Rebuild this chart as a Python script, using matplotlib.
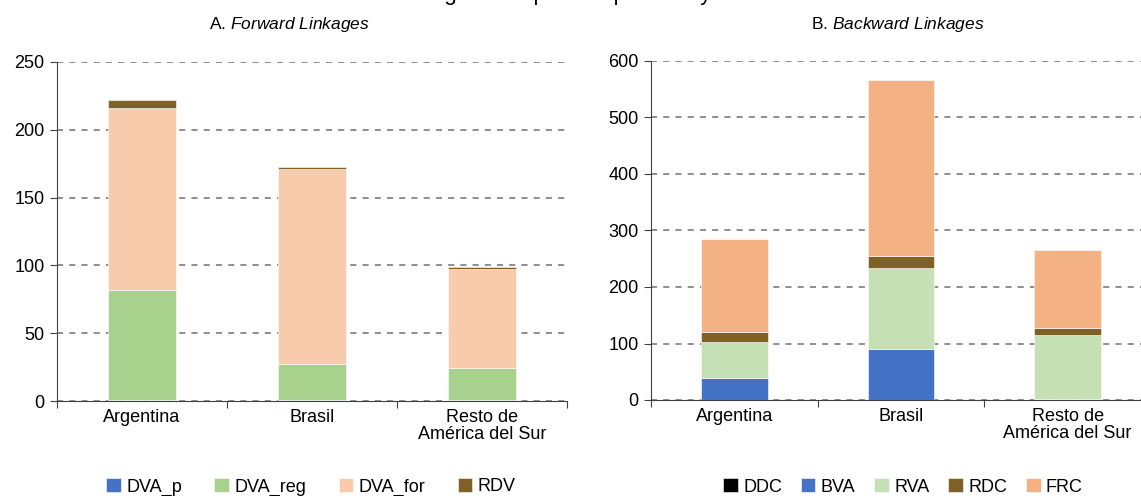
import matplotlib.pyplot as plt
import numpy as np

plt.rcParams['font.family'] = ['Liberation Sans', 'DejaVu Sans']
plt.rcParams['mathtext.fontset'] = 'custom'
plt.rcParams['mathtext.rm'] = 'Liberation Sans'
plt.rcParams['mathtext.it'] = 'Liberation Sans:italic'

# data
countries = ["Argentina", "Brasil", "Resto de\nAmérica del Sur"]

fwd_names = ["DVA_p", "DVA_reg", "DVA_for", "RDV"]
dva_p = [0.5, 0.5, 0.5]
dva_reg = [81, 27, 23.5]
dva_for = [134.5, 143.5, 73.5]
rdv = [6, 1.5, 1.5]
fwd_colors = ["#4472C4", "#A9D18E", "#F8CBAD", "#7F6128"]

bwd_names = ["DDC", "BVA", "RVA", "RDC", "FRC"]
ddc = [0.5, 0.5, 0.5]
bva = [38, 89, 0.5]
rva = [64, 144, 114]
rdc = [18, 21, 12.5]
frc = [165, 311, 137.5]
bwd_colors = ["#000000", "#4472C4", "#C5E0B4", "#7F6128", "#F4B183"]

fig = plt.figure(figsize=(11.41, 4.96), dpi=100)
ax1 = fig.add_axes([57/1141, 1-401/496, 510/1141, 339/496])
ax2 = fig.add_axes([651/1141, 1-400/496, 500/1141, 339/496])


def stacked(ax, series, names, colors, ymax, step):
    x = np.arange(len(countries)) + 0.5
    bottom = np.zeros(len(countries))
    handles = []
    for vals, name, col in zip(series, names, colors):
        b = ax.bar(x, vals, 0.4, bottom=bottom, color=col, label=name,
                   edgecolor="white", linewidth=0.4, zorder=3)
        handles.append(b)
        bottom += np.array(vals)
    ax.set_xlim(0, 3)
    ax.set_ylim(0, ymax)
    ax.set_yticks(np.arange(0, ymax + 1, step))
    ax.set_xticks([0, 1, 2, 3])
    ax.set_xticklabels([])
    ax.set_xticks(x, minor=True)
    ax.set_xticklabels(countries, minor=True, fontsize=13, linespacing=1.0)
    ax.tick_params(axis="x", which="minor", length=0, pad=6)
    ax.tick_params(axis="x", which="major", length=5, direction="out", color="#404040")
    ax.tick_params(axis="y", length=5, labelsize=13, color="#404040", pad=4)
    ax.yaxis.grid(True, linestyle=(0, (4, 4)), color="#707070", linewidth=1.1, zorder=0)
    ax.set_axisbelow(True)
    for s in ["top", "right"]:
        ax.spines[s].set_visible(False)
    ax.spines["left"].set_color("#404040")
    ax.spines["bottom"].set_color("#404040")
    return handles


h1 = stacked(ax1, [dva_p, dva_reg, dva_for, rdv], fwd_names, fwd_colors, 250, 50)
h2 = stacked(ax2, [ddc, bva, rva, rdc, frc], bwd_names, bwd_colors, 600, 100)

fig.text(289/1141, 1-24/496, r"A. $\it{Forward\ Linkages}$", ha="center", va="center", fontsize=12.5)
fig.text(898/1141, 1-24/496, r"B. $\it{Backward\ Linkages}$", ha="center", va="center", fontsize=12.5)
fig.text(0.5 - 62/1141, 1.0, "Encadenamientos regionales por componente y sector",
         ha="center", va="baseline", fontsize=16)

leg_kw = dict(loc="center", frameon=False, fontsize=13, handlelength=0.8,
              handleheight=0.8, handletextpad=0.3, borderaxespad=0)
fig.legend(h1, fwd_names, ncol=4, columnspacing=1.8,
           bbox_to_anchor=(311/1141, 1-487/496), **leg_kw)
fig.legend(h2, bwd_names, ncol=5, columnspacing=1.05,
           bbox_to_anchor=(903/1141, 1-487/496), **leg_kw)

fig.savefig("out.png", dpi=100)
